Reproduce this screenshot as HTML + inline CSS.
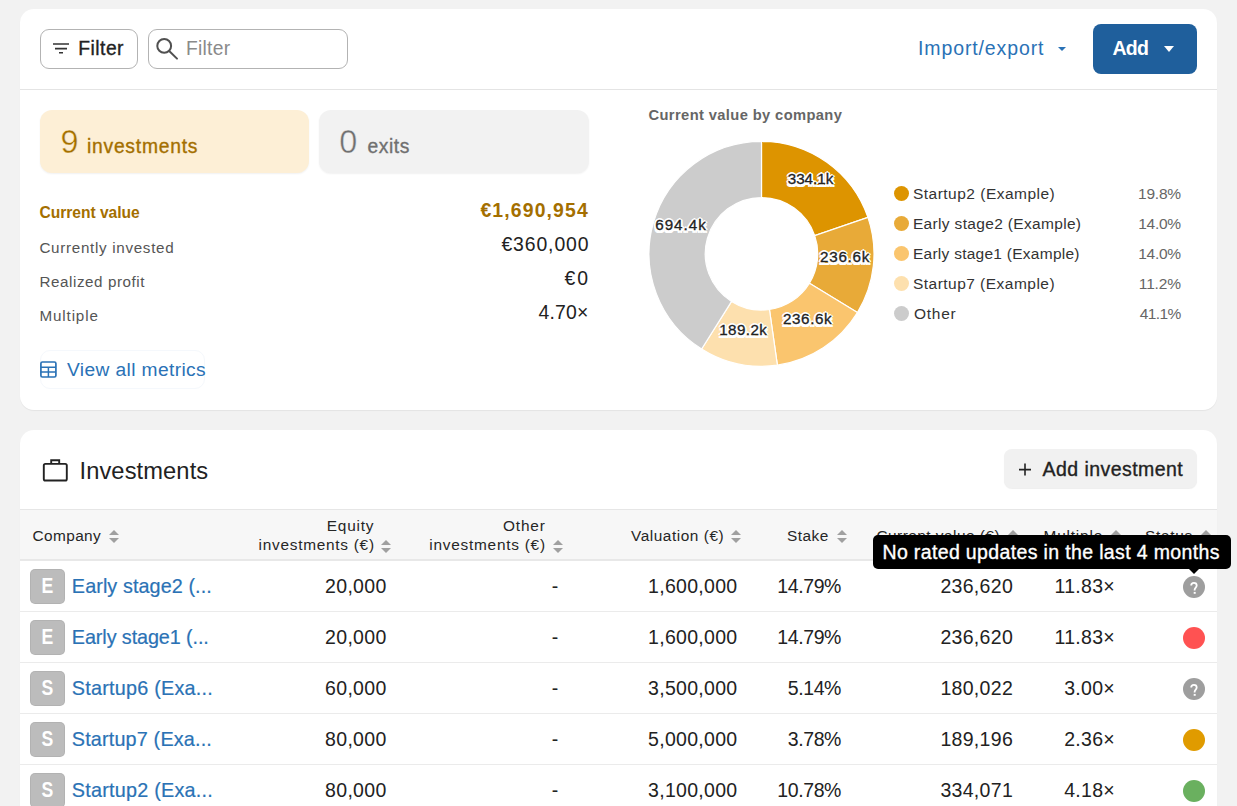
<!DOCTYPE html><html><head><meta charset="utf-8"><style>
html,body{margin:0;padding:0;}
body{width:1237px;height:806px;overflow:hidden;background:#f2f2f2;position:relative;font-family:"Liberation Sans",sans-serif;}
.abs{position:absolute;}
.t{position:absolute;white-space:nowrap;}
.tri{position:absolute;width:0;height:0;}
.lbl{-webkit-text-stroke:0.3px #222;text-shadow:2px 0 0 #fff,-2px 0 0 #fff,0 2px 0 #fff,0 -2px 0 #fff,1.5px 1.5px 0 #fff,-1.5px -1.5px 0 #fff,1.5px -1.5px 0 #fff,-1.5px 1.5px 0 #fff,0 3px 0 #fff,1.5px 3px 0 #fff,-1.5px 3px 0 #fff;}
.med{-webkit-text-stroke:0.35px currentColor;}
.med2{-webkit-text-stroke:0.2px currentColor;}
.thin1{-webkit-text-stroke:0.45px #fdefd6;}
.thin2{-webkit-text-stroke:0.45px #f2f2f2;}
.card{position:absolute;background:#fff;border-radius:14px;box-shadow:0 1px 1px rgba(0,0,0,0.06);}
.line{position:absolute;height:1px;background:#e6e6e6;}
</style></head><body>
<div class="card" style="left:20px;top:9px;width:1197px;height:401px;"></div>
<div class="card" style="left:20px;top:430px;width:1197px;height:420px;"></div>
<div class="line" style="left:20px;top:89px;width:1197px;background:#e4e4e4"></div>
<div class="abs" style="left:40px;top:29px;width:96px;height:38px;border:1px solid #b3b3b3;border-radius:9px;"></div>
<svg class="abs" style="left:50px;top:38px" width="24" height="20"><path d="M3 6H19M5 10.6H17M9 14.8H13" stroke="#333" stroke-width="1.6" fill="none"/></svg>
<div class="abs" style="left:148px;top:29px;width:198px;height:38px;border:1px solid #b3b3b3;border-radius:9px;"></div>
<svg class="abs" style="left:150px;top:32px" width="34" height="34"><circle cx="14.2" cy="13.9" r="6.9" stroke="#505050" stroke-width="2" fill="none"/><path d="M19.2 19L27 26.6" stroke="#505050" stroke-width="2" stroke-linecap="round"/></svg>
<div class="tri" style="left:1058.2px;top:46.5px;border-left:4.0px solid transparent;border-right:4.0px solid transparent;border-top:4px solid #2a72b6;"></div>
<div class="abs" style="left:1093px;top:24px;width:104px;height:50px;background:#1f5f9c;border-radius:8px;"></div>
<div class="tri" style="left:1163.8px;top:46.3px;border-left:5.0px solid transparent;border-right:5.0px solid transparent;border-top:6px solid #fff;"></div>
<div class="abs" style="left:40px;top:110px;width:269px;height:63px;background:#fdefd6;border-radius:12px;box-shadow:0 1px 2px rgba(0,0,0,0.06);"></div>
<div class="abs" style="left:319px;top:110px;width:270px;height:63px;background:#f2f2f2;border-radius:12px;box-shadow:0 1px 2px rgba(0,0,0,0.06);"></div>
<div class="abs" style="left:40px;top:350px;width:165px;height:39px;border:1px solid #f5f8fc;border-radius:10px;box-sizing:border-box;"></div>
<svg class="abs" style="left:38px;top:359px" width="22" height="22"><rect x="2.9" y="3" width="15" height="15" rx="1.5" stroke="#2a72b6" stroke-width="1.7" fill="none"/><path d="M2.9 8.3H17.9M2.9 13H17.9M10.4 8.3V18" stroke="#2a72b6" stroke-width="1.5"/></svg>
<svg class="abs" style="left:0;top:0" width="1237" height="806"><path d="M761.50,141.30 A112.5,112.5 0 0 1 867.95,217.40 L814.72,235.60 A56.25,56.25 0 0 0 761.50,197.55 Z" fill="#dd9400" stroke="#fff" stroke-width="1.2" stroke-linejoin="round"/><path d="M867.95,217.40 A112.5,112.5 0 0 1 857.42,312.58 L809.46,283.19 A56.25,56.25 0 0 0 814.72,235.60 Z" fill="#e8aa38" stroke="#fff" stroke-width="1.2" stroke-linejoin="round"/><path d="M857.42,312.58 A112.5,112.5 0 0 1 777.40,365.17 L769.45,309.49 A56.25,56.25 0 0 0 809.46,283.19 Z" fill="#fac56e" stroke="#fff" stroke-width="1.2" stroke-linejoin="round"/><path d="M777.40,365.17 A112.5,112.5 0 0 1 701.63,349.04 L731.56,301.42 A56.25,56.25 0 0 0 769.45,309.49 Z" fill="#fde0ae" stroke="#fff" stroke-width="1.2" stroke-linejoin="round"/><path d="M701.63,349.04 A112.5,112.5 0 0 1 761.50,141.30 L761.50,197.55 A56.25,56.25 0 0 0 731.56,301.42 Z" fill="#cccccc" stroke="#fff" stroke-width="1.2" stroke-linejoin="round"/></svg>
<div class="abs" style="left:894px;top:186px;width:15px;height:15px;border-radius:50%;background:#dd9400"></div>
<div class="abs" style="left:894px;top:216px;width:15px;height:15px;border-radius:50%;background:#e8aa38"></div>
<div class="abs" style="left:894px;top:246px;width:15px;height:15px;border-radius:50%;background:#fac56e"></div>
<div class="abs" style="left:894px;top:276px;width:15px;height:15px;border-radius:50%;background:#fde0ae"></div>
<div class="abs" style="left:894px;top:306px;width:15px;height:15px;border-radius:50%;background:#cccccc"></div>
<svg class="abs" style="left:40px;top:456px" width="30" height="28"><rect x="3.8" y="7.9" width="23" height="16.6" rx="1.6" stroke="#222" stroke-width="1.9" fill="none"/><path d="M11.2 7.9V4.2H19.2V7.9" stroke="#222" stroke-width="1.9" fill="none"/></svg>
<div class="abs" style="left:1004px;top:449px;width:193px;height:39px;background:#f1f1f1;border-radius:8px;box-shadow:0 1px 1px rgba(0,0,0,0.07);"></div>
<svg class="abs" style="left:1015px;top:460px" width="20" height="20"><path d="M4 9.6H16M10 3.6V15.6" stroke="#222" stroke-width="1.6"/></svg>
<div class="abs" style="left:20px;top:509px;width:1197px;height:49px;background:#f7f7f7;border-top:1px solid #e6e6e6;border-bottom:2px solid #e8e8e8;"></div>
<div class="tri" style="left:109px;top:530px;border-left:5.0px solid transparent;border-right:5.0px solid transparent;border-bottom:5px solid #a0a0a0;"></div><div class="tri" style="left:109px;top:538px;border-left:5.0px solid transparent;border-right:5.0px solid transparent;border-top:5px solid #a0a0a0;"></div>
<div class="tri" style="left:381.2px;top:539.5px;border-left:5.0px solid transparent;border-right:5.0px solid transparent;border-bottom:5px solid #a0a0a0;"></div><div class="tri" style="left:381.2px;top:547.5px;border-left:5.0px solid transparent;border-right:5.0px solid transparent;border-top:5px solid #a0a0a0;"></div>
<div class="tri" style="left:553px;top:539.5px;border-left:5.0px solid transparent;border-right:5.0px solid transparent;border-bottom:5px solid #a0a0a0;"></div><div class="tri" style="left:553px;top:547.5px;border-left:5.0px solid transparent;border-right:5.0px solid transparent;border-top:5px solid #a0a0a0;"></div>
<div class="tri" style="left:731px;top:530px;border-left:5.0px solid transparent;border-right:5.0px solid transparent;border-bottom:5px solid #a0a0a0;"></div><div class="tri" style="left:731px;top:538px;border-left:5.0px solid transparent;border-right:5.0px solid transparent;border-top:5px solid #a0a0a0;"></div>
<div class="tri" style="left:836.5px;top:530px;border-left:5.0px solid transparent;border-right:5.0px solid transparent;border-bottom:5px solid #a0a0a0;"></div><div class="tri" style="left:836.5px;top:538px;border-left:5.0px solid transparent;border-right:5.0px solid transparent;border-top:5px solid #a0a0a0;"></div>
<div class="tri" style="left:1008px;top:530px;border-left:5.0px solid transparent;border-right:5.0px solid transparent;border-bottom:5px solid #a0a0a0;"></div><div class="tri" style="left:1008px;top:538px;border-left:5.0px solid transparent;border-right:5.0px solid transparent;border-top:5px solid #a0a0a0;"></div>
<div class="tri" style="left:1110.5px;top:530px;border-left:5.0px solid transparent;border-right:5.0px solid transparent;border-bottom:5px solid #a0a0a0;"></div><div class="tri" style="left:1110.5px;top:538px;border-left:5.0px solid transparent;border-right:5.0px solid transparent;border-top:5px solid #a0a0a0;"></div>
<div class="tri" style="left:1200.5px;top:530px;border-left:5.0px solid transparent;border-right:5.0px solid transparent;border-bottom:5px solid #a0a0a0;"></div><div class="tri" style="left:1200.5px;top:538px;border-left:5.0px solid transparent;border-right:5.0px solid transparent;border-top:5px solid #a0a0a0;"></div>
<div class="line" style="left:20px;top:611px;width:1197px;background:#ebebeb"></div>
<div class="abs" style="left:30px;top:569px;width:35px;height:35px;border-radius:5px;background:#bcbcbc;box-shadow:inset 0 0 0 1px rgba(0,0,0,0.05);"></div>
<div class="t" style="left:30px;top:569px;width:35px;height:35px;line-height:35px;text-align:center;color:#fff;font-weight:700;font-size:21.5px;transform:scaleX(0.82);">E</div>
<svg class="abs" style="left:1183px;top:575.5px" width="22" height="22"><circle cx="11" cy="11" r="11" fill="#9e9e9e"/><path d="M8.2 9.5C8.2 7.7 9.4 6.9 10.9 6.9C12.5 6.9 13.7 7.9 13.7 9.4C13.7 11.4 11.6 11.7 11.6 13.9V14.4" stroke="#fff" stroke-width="1.8" fill="none"/><rect x="10.7" y="15.9" width="2" height="1.9" fill="#fff"/></svg>
<div class="line" style="left:20px;top:662px;width:1197px;background:#ebebeb"></div>
<div class="abs" style="left:30px;top:620px;width:35px;height:35px;border-radius:5px;background:#bcbcbc;box-shadow:inset 0 0 0 1px rgba(0,0,0,0.05);"></div>
<div class="t" style="left:30px;top:620px;width:35px;height:35px;line-height:35px;text-align:center;color:#fff;font-weight:700;font-size:21.5px;transform:scaleX(0.82);">E</div>
<svg class="abs" style="left:1183px;top:626.5px" width="22" height="22"><circle cx="11" cy="11" r="11" fill="#ff5252"/></svg>
<div class="line" style="left:20px;top:713px;width:1197px;background:#ebebeb"></div>
<div class="abs" style="left:30px;top:671px;width:35px;height:35px;border-radius:5px;background:#bcbcbc;box-shadow:inset 0 0 0 1px rgba(0,0,0,0.05);"></div>
<div class="t" style="left:30px;top:671px;width:35px;height:35px;line-height:35px;text-align:center;color:#fff;font-weight:700;font-size:21.5px;transform:scaleX(0.82);">S</div>
<svg class="abs" style="left:1183px;top:677.5px" width="22" height="22"><circle cx="11" cy="11" r="11" fill="#9e9e9e"/><path d="M8.2 9.5C8.2 7.7 9.4 6.9 10.9 6.9C12.5 6.9 13.7 7.9 13.7 9.4C13.7 11.4 11.6 11.7 11.6 13.9V14.4" stroke="#fff" stroke-width="1.8" fill="none"/><rect x="10.7" y="15.9" width="2" height="1.9" fill="#fff"/></svg>
<div class="line" style="left:20px;top:764px;width:1197px;background:#ebebeb"></div>
<div class="abs" style="left:30px;top:722px;width:35px;height:35px;border-radius:5px;background:#bcbcbc;box-shadow:inset 0 0 0 1px rgba(0,0,0,0.05);"></div>
<div class="t" style="left:30px;top:722px;width:35px;height:35px;line-height:35px;text-align:center;color:#fff;font-weight:700;font-size:21.5px;transform:scaleX(0.82);">S</div>
<svg class="abs" style="left:1183px;top:728.5px" width="22" height="22"><circle cx="11" cy="11" r="11" fill="#e09b00"/></svg>
<div class="line" style="left:20px;top:815px;width:1197px;background:#ebebeb"></div>
<div class="abs" style="left:30px;top:773px;width:35px;height:35px;border-radius:5px;background:#bcbcbc;box-shadow:inset 0 0 0 1px rgba(0,0,0,0.05);"></div>
<div class="t" style="left:30px;top:773px;width:35px;height:35px;line-height:35px;text-align:center;color:#fff;font-weight:700;font-size:21.5px;transform:scaleX(0.82);">S</div>
<svg class="abs" style="left:1183px;top:779.5px" width="22" height="22"><circle cx="11" cy="11" r="11" fill="#6ab05f"/></svg>
<div class="t med" id="t0" style="top:39.26px;font-size:19.3px;line-height:19.3px;color:#222;left:78.35px;letter-spacing:0.460px;">Filter</div>
<div class="t" id="t1" style="top:39.46px;font-size:19.3px;line-height:19.3px;color:#8a8a8a;left:186.11px;letter-spacing:0.220px;">Filter</div>
<div class="t" id="t2" style="top:39.29px;font-size:19.5px;line-height:19.5px;color:#2a72b6;left:918.00px;letter-spacing:0.883px;">Import/export</div>
<div class="t" id="t3" style="top:39.49px;font-size:19.5px;line-height:19.5px;color:#fff;font-weight:700;left:1112.47px;letter-spacing:-0.700px;">Add</div>
<div class="t thin1" id="t4" style="top:126.37px;font-size:32.4px;line-height:32.4px;color:#a46f00;left:60.47px;">9</div>
<div class="t med" id="t5" style="top:137.16px;font-size:19.3px;line-height:19.3px;color:#a46f00;left:86.96px;letter-spacing:0.760px;">investments</div>
<div class="t thin2" id="t6" style="top:126.37px;font-size:32.4px;line-height:32.4px;color:#707070;left:339.20px;">0</div>
<div class="t med" id="t7" style="top:137.16px;font-size:19.3px;line-height:19.3px;color:#707070;left:367.52px;letter-spacing:0.550px;">exits</div>
<div class="t" id="t8" style="top:204.99px;font-size:15.6px;line-height:15.6px;color:#a46f00;font-weight:700;left:39.46px;letter-spacing:-0.017px;">Current value</div>
<div class="t" id="t9" style="top:239.93px;font-size:15.2px;line-height:15.2px;color:#555;left:39.46px;letter-spacing:0.694px;">Currently invested</div>
<div class="t" id="t10" style="top:273.93px;font-size:15.2px;line-height:15.2px;color:#555;left:39.46px;letter-spacing:0.571px;">Realized profit</div>
<div class="t" id="t11" style="top:307.93px;font-size:15.2px;line-height:15.2px;color:#555;left:39.46px;letter-spacing:0.871px;">Multiple</div>
<div class="t" id="t12" style="top:201.47px;font-size:19.4px;line-height:19.4px;color:#a46f00;font-weight:700;left:480.44px;letter-spacing:1.133px;">€1,690,954</div>
<div class="t" id="t13" style="top:235.47px;font-size:19.4px;line-height:19.4px;color:#222;left:501.44px;letter-spacing:0.886px;">€360,000</div>
<div class="t" id="t14" style="top:269.37px;font-size:19.4px;line-height:19.4px;color:#222;left:564.54px;letter-spacing:1.900px;">€0</div>
<div class="t" id="t15" style="top:303.37px;font-size:19.4px;line-height:19.4px;color:#222;left:538.47px;letter-spacing:0.225px;">4.70×</div>
<div class="t" id="t16" style="top:360.24px;font-size:19.2px;line-height:19.2px;color:#2a72b6;left:66.97px;letter-spacing:0.387px;">View all metrics</div>
<div class="t" id="t17" style="top:108.25px;font-size:14.7px;line-height:14.7px;color:#666;font-weight:700;left:648.52px;letter-spacing:0.387px;">Current value by company</div>
<div class="t" id="t18" style="top:186.48px;font-size:15.5px;line-height:15.5px;color:#333;left:912.95px;letter-spacing:0.488px;">Startup2 (Example)</div>
<div class="t" id="t19" style="top:185.58px;font-size:15.5px;line-height:15.5px;color:#666;left:1138.06px;letter-spacing:-0.225px;">19.8%</div>
<div class="t" id="t20" style="top:216.48px;font-size:15.5px;line-height:15.5px;color:#333;left:912.95px;letter-spacing:0.333px;">Early stage2 (Example)</div>
<div class="t" id="t21" style="top:215.58px;font-size:15.5px;line-height:15.5px;color:#666;left:1138.28px;letter-spacing:-0.300px;">14.0%</div>
<div class="t" id="t22" style="top:246.48px;font-size:15.5px;line-height:15.5px;color:#333;left:912.95px;letter-spacing:0.262px;">Early stage1 (Example)</div>
<div class="t" id="t23" style="top:245.58px;font-size:15.5px;line-height:15.5px;color:#666;left:1138.28px;letter-spacing:-0.300px;">14.0%</div>
<div class="t" id="t24" style="top:276.48px;font-size:15.5px;line-height:15.5px;color:#333;left:912.95px;letter-spacing:0.476px;">Startup7 (Example)</div>
<div class="t" id="t25" style="top:275.58px;font-size:15.5px;line-height:15.5px;color:#666;left:1138.84px;letter-spacing:-0.150px;">11.2%</div>
<div class="t" id="t26" style="top:306.48px;font-size:15.5px;line-height:15.5px;color:#333;left:913.95px;letter-spacing:0.750px;">Other</div>
<div class="t" id="t27" style="top:305.58px;font-size:15.5px;line-height:15.5px;color:#666;left:1139.71px;letter-spacing:-0.575px;">41.1%</div>
<div class="t lbl" id="t28" style="top:171.33px;font-size:15.2px;line-height:15.2px;color:#222;left:787.71px;">334.1k</div>
<div class="t lbl" id="t29" style="top:249.23px;font-size:15.2px;line-height:15.2px;color:#222;left:819.97px;letter-spacing:0.760px;">236.6k</div>
<div class="t lbl" id="t30" style="top:311.33px;font-size:15.2px;line-height:15.2px;color:#222;left:783.00px;letter-spacing:0.600px;">236.6k</div>
<div class="t lbl" id="t31" style="top:322.43px;font-size:15.2px;line-height:15.2px;color:#222;left:719.22px;letter-spacing:0.420px;">189.2k</div>
<div class="t lbl" id="t32" style="top:216.63px;font-size:15.2px;line-height:15.2px;color:#222;left:655.22px;letter-spacing:1.000px;">694.4k</div>
<div class="t" id="t33" style="top:459.63px;font-size:23.7px;line-height:23.7px;color:#222;left:79.46px;letter-spacing:0.100px;">Investments</div>
<div class="t med" id="t34" style="top:460.29px;font-size:19.5px;line-height:19.5px;color:#222;left:1042.53px;letter-spacing:0.446px;">Add investment</div>
<div class="t" id="t35" style="top:528.36px;font-size:15.4px;line-height:15.4px;color:#262626;left:32.50px;letter-spacing:0.400px;">Company</div>
<div class="t" id="t36" style="top:518.16px;font-size:15.4px;line-height:15.4px;color:#262626;left:326.70px;letter-spacing:0.820px;">Equity</div>
<div class="t" id="t37" style="top:537.06px;font-size:15.4px;line-height:15.4px;color:#262626;left:258.61px;letter-spacing:0.729px;">investments (€)</div>
<div class="t" id="t38" style="top:518.16px;font-size:15.4px;line-height:15.4px;color:#262626;left:503.02px;letter-spacing:0.825px;">Other</div>
<div class="t" id="t39" style="top:537.06px;font-size:15.4px;line-height:15.4px;color:#262626;left:429.35px;letter-spacing:0.750px;">investments (€)</div>
<div class="t" id="t40" style="top:527.96px;font-size:15.4px;line-height:15.4px;color:#262626;left:631.00px;letter-spacing:0.542px;">Valuation (€)</div>
<div class="t" id="t41" style="top:527.96px;font-size:15.4px;line-height:15.4px;color:#262626;left:787.00px;letter-spacing:0.500px;">Stake</div>
<div class="t" id="t42" style="top:527.96px;font-size:15.4px;line-height:15.4px;color:#262626;left:876.46px;letter-spacing:0.475px;">Current value (€)</div>
<div class="t" id="t43" style="top:527.96px;font-size:15.4px;line-height:15.4px;color:#262626;left:1043.53px;letter-spacing:0.814px;">Multiple</div>
<div class="t" id="t44" style="top:527.96px;font-size:15.4px;line-height:15.4px;color:#262626;left:1144.97px;letter-spacing:0.700px;">Status</div>
<div class="t med2" id="t45" style="top:576.64px;font-size:19.8px;line-height:19.8px;color:#2a72b5;left:71.85px;letter-spacing:0.088px;">Early stage2 (...</div>
<div class="t" id="t46" style="top:576.89px;font-size:19.5px;line-height:19.5px;color:#222;right:850.46px;letter-spacing:0.3px;">20,000</div>
<div class="t" id="t47" style="top:576.89px;font-size:19.5px;line-height:19.5px;color:#222;right:678.47px;letter-spacing:0.3px;">-</div>
<div class="t" id="t48" style="top:576.89px;font-size:19.5px;line-height:19.5px;color:#222;right:499.50px;letter-spacing:0.3px;">1,600,000</div>
<div class="t" id="t49" style="top:576.89px;font-size:19.5px;line-height:19.5px;color:#222;right:395.96px;letter-spacing:-0.4px;">14.79%</div>
<div class="t" id="t50" style="top:576.89px;font-size:19.5px;line-height:19.5px;color:#222;right:223.97px;letter-spacing:0.3px;">236,620</div>
<div class="t" id="t51" style="top:576.89px;font-size:19.5px;line-height:19.5px;color:#222;right:122.03px;letter-spacing:0.3px;">11.83×</div>
<div class="t med2" id="t52" style="top:627.64px;font-size:19.8px;line-height:19.8px;color:#2a72b5;left:71.85px;letter-spacing:-0.094px;">Early stage1 (...</div>
<div class="t" id="t53" style="top:627.89px;font-size:19.5px;line-height:19.5px;color:#222;right:850.46px;letter-spacing:0.3px;">20,000</div>
<div class="t" id="t54" style="top:627.89px;font-size:19.5px;line-height:19.5px;color:#222;right:678.47px;letter-spacing:0.3px;">-</div>
<div class="t" id="t55" style="top:627.89px;font-size:19.5px;line-height:19.5px;color:#222;right:499.50px;letter-spacing:0.3px;">1,600,000</div>
<div class="t" id="t56" style="top:627.89px;font-size:19.5px;line-height:19.5px;color:#222;right:395.96px;letter-spacing:-0.4px;">14.79%</div>
<div class="t" id="t57" style="top:627.89px;font-size:19.5px;line-height:19.5px;color:#222;right:223.97px;letter-spacing:0.3px;">236,620</div>
<div class="t" id="t58" style="top:627.89px;font-size:19.5px;line-height:19.5px;color:#222;right:122.03px;letter-spacing:0.3px;">11.83×</div>
<div class="t med2" id="t59" style="top:678.64px;font-size:19.8px;line-height:19.8px;color:#2a72b5;left:71.85px;letter-spacing:0.233px;">Startup6 (Exa...</div>
<div class="t" id="t60" style="top:678.89px;font-size:19.5px;line-height:19.5px;color:#222;right:850.46px;letter-spacing:0.3px;">60,000</div>
<div class="t" id="t61" style="top:678.89px;font-size:19.5px;line-height:19.5px;color:#222;right:678.47px;letter-spacing:0.3px;">-</div>
<div class="t" id="t62" style="top:678.89px;font-size:19.5px;line-height:19.5px;color:#222;right:499.50px;letter-spacing:0.3px;">3,500,000</div>
<div class="t" id="t63" style="top:678.89px;font-size:19.5px;line-height:19.5px;color:#222;right:395.96px;letter-spacing:-0.4px;">5.14%</div>
<div class="t" id="t64" style="top:678.89px;font-size:19.5px;line-height:19.5px;color:#222;right:223.97px;letter-spacing:0.3px;">180,022</div>
<div class="t" id="t65" style="top:678.89px;font-size:19.5px;line-height:19.5px;color:#222;right:122.03px;letter-spacing:0.3px;">3.00×</div>
<div class="t med2" id="t66" style="top:729.64px;font-size:19.8px;line-height:19.8px;color:#2a72b5;left:71.85px;letter-spacing:0.167px;">Startup7 (Exa...</div>
<div class="t" id="t67" style="top:729.89px;font-size:19.5px;line-height:19.5px;color:#222;right:850.46px;letter-spacing:0.3px;">80,000</div>
<div class="t" id="t68" style="top:729.89px;font-size:19.5px;line-height:19.5px;color:#222;right:678.47px;letter-spacing:0.3px;">-</div>
<div class="t" id="t69" style="top:729.89px;font-size:19.5px;line-height:19.5px;color:#222;right:499.50px;letter-spacing:0.3px;">5,000,000</div>
<div class="t" id="t70" style="top:729.89px;font-size:19.5px;line-height:19.5px;color:#222;right:395.96px;letter-spacing:-0.4px;">3.78%</div>
<div class="t" id="t71" style="top:729.89px;font-size:19.5px;line-height:19.5px;color:#222;right:223.97px;letter-spacing:0.3px;">189,196</div>
<div class="t" id="t72" style="top:729.89px;font-size:19.5px;line-height:19.5px;color:#222;right:122.03px;letter-spacing:0.3px;">2.36×</div>
<div class="t med2" id="t73" style="top:780.64px;font-size:19.8px;line-height:19.8px;color:#2a72b5;left:71.85px;letter-spacing:0.233px;">Startup2 (Exa...</div>
<div class="t" id="t74" style="top:780.89px;font-size:19.5px;line-height:19.5px;color:#222;right:850.46px;letter-spacing:0.3px;">80,000</div>
<div class="t" id="t75" style="top:780.89px;font-size:19.5px;line-height:19.5px;color:#222;right:678.47px;letter-spacing:0.3px;">-</div>
<div class="t" id="t76" style="top:780.89px;font-size:19.5px;line-height:19.5px;color:#222;right:499.50px;letter-spacing:0.3px;">3,100,000</div>
<div class="t" id="t77" style="top:780.89px;font-size:19.5px;line-height:19.5px;color:#222;right:395.96px;letter-spacing:-0.4px;">10.78%</div>
<div class="t" id="t78" style="top:780.89px;font-size:19.5px;line-height:19.5px;color:#222;right:223.97px;letter-spacing:0.3px;">334,071</div>
<div class="t" id="t79" style="top:780.89px;font-size:19.5px;line-height:19.5px;color:#222;right:122.03px;letter-spacing:0.3px;">4.18×</div>
<div class="abs" style="left:873px;top:535px;width:358px;height:34px;background:#000;border-radius:5px;"></div>
<div class="tri" style="left:1187.7px;top:568px;border-left:6.0px solid transparent;border-right:6.0px solid transparent;border-top:6px solid #000;"></div>
<div class="t tt med" id="t80" style="top:542.89px;font-size:19.5px;line-height:19.5px;color:#fff;left:882.46px;letter-spacing:0.356px;">No rated updates in the last 4 months</div>
</body></html>
